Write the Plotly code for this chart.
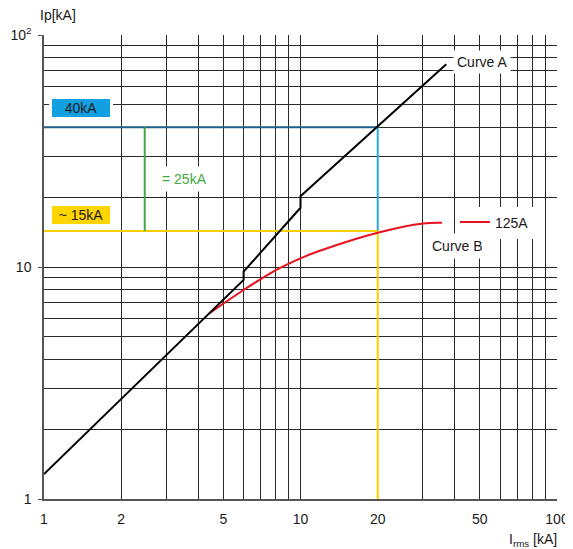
import plotly.graph_objects as go

# ---------------- data ----------------
curve_a_x = [1.0, 6.0, 6.0, 10.0, 10.0, 37.0]
curve_a_y = [1.28, 8.8, 9.55, 18.0, 20.2, 74.8]

curve_b_x = [4.42, 6.0, 8.02, 10.0, 11.9, 20.0, 30.1, 35.6]
curve_b_y = [6.32, 7.96, 9.7, 10.9, 11.75, 14.05, 15.4, 15.5]

level_hi = 40.0     # 40kA
level_lo = 14.3     # ~15kA
x_rms = 20.0        # 20kA
x_diff = 2.47       # position of the "= 25kA" marker

x_tick_vals = [1, 2, 5, 10, 20, 50, 100]
x_tick_text = ["1", "2", "5", "10", "20", "50", "100"]
y_tick_vals = [1, 10, 100]
y_tick_text = ["1", "10", "10<sup>2</sup>"]
x_minor = [2, 3, 4, 6, 7, 8, 9, 30, 40, 60, 70, 80, 90]
y_minor = [2, 3, 4, 5, 6, 7, 8, 9, 20, 30, 40, 50, 60, 70, 80, 90]

# ---------------- layout helpers ----------------
W, H = 573, 549
OFF = 8                      # default page margin around the plot div
ML, MT = 44 - OFF, 35 - OFF
MR = W - (557 - OFF)
MB = H - (499 - OFF)
PW, PH = W - ML - MR, H - MT - MB


def px(x):
    return (x - OFF - ML) / PW


def py(y):
    return (MT + PH + OFF - y) / PH


FONT = "Liberation Sans, Arial, sans-serif"
TXT = "#1a1a1a"
GRID = "#2a2a2a"

fig = go.Figure()

# reference lines
fig.add_trace(go.Scatter(x=[1, x_rms], y=[level_hi, level_hi], mode="lines",
                         line=dict(color="#1d5f88", width=2), showlegend=False, hoverinfo="skip"))
fig.add_trace(go.Scatter(x=[x_rms, x_rms], y=[level_hi, level_lo], mode="lines",
                         line=dict(color="#2aa8e2", width=2), showlegend=False, hoverinfo="skip"))
fig.add_trace(go.Scatter(x=[1, x_rms], y=[level_lo, level_lo], mode="lines",
                         line=dict(color="#f7cf00", width=2), showlegend=False, hoverinfo="skip"))
fig.add_trace(go.Scatter(x=[x_rms, x_rms], y=[level_lo, 1], mode="lines",
                         line=dict(color="#f7cf00", width=2), showlegend=False, hoverinfo="skip"))
fig.add_trace(go.Scatter(x=[x_diff, x_diff], y=[level_hi, level_lo], mode="lines",
                         line=dict(color="#45a843", width=2), showlegend=False, hoverinfo="skip"))

# curves
fig.add_trace(go.Scatter(x=curve_b_x, y=curve_b_y, mode="lines", name="125A",
                         line=dict(color="#e8101e", width=2, shape="spline"), showlegend=True))
fig.add_trace(go.Scatter(x=curve_a_x, y=curve_a_y, mode="lines", name="Curve A",
                         line=dict(color="#000000", width=2), showlegend=False))


def note(text, x, y, **kw):
    d = dict(text=text, x=px(x), y=py(y), xref="paper", yref="paper",
             xanchor="center", yanchor="middle", showarrow=False,
             font=dict(family=FONT, size=14, color=kw.pop("color", TXT)))
    d.update(kw)
    return d


ann = [
    note("40kA", 81, 107.5, width=58, height=18, bgcolor="#12a0e2",
         bordercolor="white", borderwidth=3, borderpad=0),
    note("~ 15kA", 81, 215.5, width=58, height=18, bgcolor="#ffd500",
         bordercolor="white", borderwidth=3, borderpad=0),
    note("= 25kA", 184, 179, color="#45a843", bgcolor="white", borderpad=4),
    note("Curve A", 482, 62, bgcolor="white", borderpad=3),
    note("Curve B", 457.5, 246.5, bgcolor="white", borderpad=4),
    note("Ip[kA]", 38, 15, xanchor="left"),
    note("I<sub>rms</sub> [kA]", 559, 540, xanchor="right"),
]

fig.update_layout(
    width=W, height=H,
    margin=dict(l=ML, r=MR, t=MT, b=MB, pad=0, autoexpand=False),
    paper_bgcolor="white", plot_bgcolor="white",
    font=dict(family=FONT, size=14, color=TXT),
    annotations=ann,
    legend=dict(x=px(455), y=py(222.5), xanchor="left", yanchor="middle",
                bgcolor="white", borderwidth=0, font=dict(family=FONT, size=14, color=TXT),
                itemclick=False, itemdoubleclick=False),
    xaxis=dict(type="log", range=[0, 2], tickvals=x_tick_vals, ticktext=x_tick_text,
               automargin=False,
               showgrid=True, gridcolor=GRID, gridwidth=1, zeroline=False,
               showline=True, linecolor="#555", linewidth=1.5,
               ticks="", ticklabelstandoff=6,
               minor=dict(tickvals=x_minor, showgrid=True, gridcolor=GRID, gridwidth=1, ticks="")),
    yaxis=dict(type="log", range=[0, 2], tickvals=y_tick_vals, ticktext=y_tick_text,
               automargin=False,
               showgrid=True, gridcolor=GRID, gridwidth=1, zeroline=False,
               showline=True, linecolor="#555", linewidth=1.5,
               ticks="outside", ticklen=4, tickcolor="#555", ticklabelstandoff=4,
               minor=dict(tickvals=y_minor, showgrid=True, gridcolor=GRID, gridwidth=1, ticks="")),
)

fig.write_html("out.html")
